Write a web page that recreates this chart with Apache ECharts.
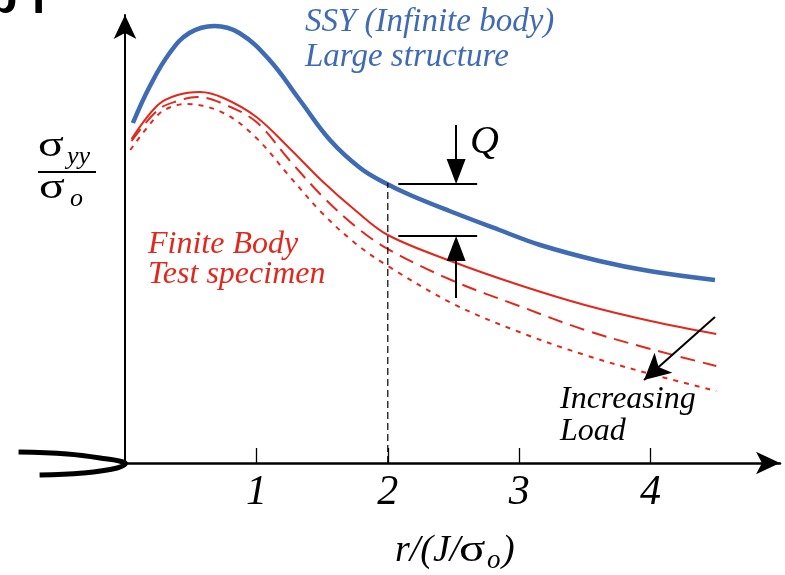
<!DOCTYPE html>
<html><head><meta charset="utf-8">
<script src="https://cdn.jsdelivr.net/npm/echarts@6/dist/echarts.min.js"></script>
<style>html,body{margin:0;padding:0;background:#fff}#c{width:785px;height:575px}</style>
</head><body><div id="c"></div>
<script>
// ---- data (x = r/(J/σo), y = σyy/σo in arbitrary units) ----
const xTickValues = [1, 2, 3, 4];
const ssyCurve = [[0.06,3.40],[0.19,3.77],[0.34,4.10],[0.49,4.30],[0.68,4.37],[0.87,4.30],[1.10,4.03],[1.33,3.63],[1.56,3.23],[1.79,2.95],[1.98,2.80],[2.17,2.68],[2.47,2.52],[2.85,2.33],[3.16,2.18],[3.61,2.02],[3.99,1.92],[4.49,1.83]];
const finiteSolid = [[0.05,3.24],[0.25,3.58],[0.4,3.68],[0.57,3.71],[0.75,3.65],[1.0,3.46],[1.25,3.15],[1.5,2.82],[1.75,2.53],[2.0,2.28],[2.5,2.01],[3.0,1.78],[3.5,1.58],[4.0,1.42],[4.5,1.29]];
const finiteDashed = [[0.05,3.22],[0.25,3.53],[0.4,3.62],[0.55,3.66],[0.75,3.59],[1.0,3.41],[1.25,3.03],[1.5,2.67],[1.75,2.37],[2.0,2.14],[2.5,1.82],[3.0,1.57],[3.5,1.33],[4.0,1.14],[4.5,0.97]];
const finiteDotted = [[0.04,3.13],[0.25,3.48],[0.35,3.56],[0.47,3.59],[0.75,3.50],[1.0,3.25],[1.25,2.87],[1.5,2.50],[1.75,2.20],[2.0,1.97],[2.5,1.59],[3.0,1.31],[3.5,1.08],[4.0,0.89],[4.5,0.72]];
const referenceX = [[2,0],[2,2.80]];
const crackProfile = [[-0.81,0.11],[-0.44,0.09],[-0.19,0.05],[0,0],[-0.06,-0.05],[-0.32,-0.10],[-0.65,-0.12]];
const qLevels = {ssy: 2.79, finite: 2.27, x0: 2.08, x1: 2.68, xa: 2.52, yTop: 3.38, yBot: 1.65};
const loadArrow = [[4.49,1.46],[3.95,0.83]];

const SERIF = '"Liberation Serif","DejaVu Serif",serif';
const RED = '#e2281c', BLUE = '#3e6bb4';

const chart = echarts.init(document.getElementById('c'), null, {renderer:'canvas'});
function lineSeries(data, color, width, type, smooth) {
  return {type:'line', data, symbol:'none', smooth: smooth===undefined?0.35:smooth, silent:true, animation:false,
    lineStyle:{color, width, type}, clip:false};
}
const option = {
  animation:false,
  grid:{left:125, right:5, top:15, bottom:112},
  xAxis:{type:'value', min:0, max:4.985,
    axisLine:{show:true, onZero:false, symbol:['none','arrow'], symbolSize:[17,24], lineStyle:{color:'#000', width:2.5}},
    axisTick:{show:true, inside:true, length:15, customValues:xTickValues, lineStyle:{color:'#000', width:1.3}},
    axisLabel:{show:true, customValues:xTickValues, margin:9, color:'#000', fontFamily:SERIF, fontStyle:'italic', fontSize:42},
    splitLine:{show:false}},
  yAxis:{type:'value', min:0, max:4.48,
    axisLine:{show:true, onZero:false, symbol:['none','arrow'], symbolSize:[17,24], lineStyle:{color:'#000', width:2}},
    axisTick:{show:false}, axisLabel:{show:false}, splitLine:{show:false}},
  series:[
    lineSeries(ssyCurve, BLUE, 4.5, 'solid', 0.4),
    lineSeries(finiteSolid, RED, 2, 'solid'),
    lineSeries(finiteDashed, RED, 2, [15,8]),
    lineSeries(finiteDotted, RED, 2, [5,6]),
    lineSeries(referenceX, '#000', 1.2, [7,4], false),
    {type:'custom', silent:true, animation:false, clip:false, data:[0],
      renderItem:function(params, api){
        return {type:'polyline', shape:{points: crackProfile.map(p=>api.coord(p)), smooth:0.4},
          style:{stroke:'#000', lineWidth:5, fill:null}};
      }},
    {type:'line', data:[], silent:true, animation:false,
      markLine:{silent:true, animation:false, label:{show:false},
        lineStyle:{color:'#000', width:2, type:'solid'},
        data:[
          [{coord:[qLevels.x0,qLevels.ssy], symbol:'none'},{coord:[qLevels.x1,qLevels.ssy], symbol:'none'}],
          [{coord:[qLevels.x0,qLevels.finite], symbol:'none'},{coord:[qLevels.x1,qLevels.finite], symbol:'none'}],
          [{coord:[qLevels.xa,qLevels.yTop], symbol:'none'},{coord:[qLevels.xa,qLevels.ssy+0.125], symbol:'triangle', symbolSize:[19,25]}],
          [{coord:[qLevels.xa,qLevels.yBot], symbol:'none'},{coord:[qLevels.xa,qLevels.finite-0.125], symbol:'triangle', symbolSize:[19,25]}],
          [{coord:loadArrow[0], symbol:'none'},{coord:loadArrow[1], symbol:'arrow', symbolSize:[20,26]}]
        ]}}
  ],
  graphic:[
    {type:'text', left:-12, top:-24, style:{text:'b', font:'bold 48px "Liberation Sans",sans-serif', fill:'#000'}},
    {type:'text', left:32, top:-24, style:{text:'l', font:'bold 48px "Liberation Sans",sans-serif', fill:'#000'}},
    {type:'text', x:305, y:22, style:{text:'SSY (Infinite body)', font:'italic 33px '+SERIF, fill:BLUE, verticalAlign:'middle'}},
    {type:'text', x:305, y:57, style:{text:'Large structure', font:'italic 33px '+SERIF, fill:BLUE, verticalAlign:'middle'}},
    {type:'text', x:148, y:245, style:{text:'Finite Body', font:'italic 32px '+SERIF, fill:RED, verticalAlign:'middle'}},
    {type:'text', x:148, y:275, style:{text:'Test specimen', font:'italic 32px '+SERIF, fill:RED, verticalAlign:'middle'}},
    {type:'text', x:560, y:400, style:{text:'Increasing', font:'italic 32px '+SERIF, fill:'#000', verticalAlign:'middle'}},
    {type:'text', x:560, y:432, style:{text:'Load', font:'italic 32px '+SERIF, fill:'#000', verticalAlign:'middle'}},
    {type:'text', x:470, y:142, style:{text:'Q', font:'italic 40px '+SERIF, fill:'#000', verticalAlign:'middle'}},
    {type:'text', x:38, y:147, scaleX:1.2, scaleY:0.9, style:{text:'σ', font:'40px '+SERIF, fill:'#000', verticalAlign:'middle'}},
    {type:'text', x:67, y:157, style:{text:'yy', font:'italic 26px '+SERIF, fill:'#000', verticalAlign:'middle'}},
    {type:'line', shape:{x1:38, y1:172, x2:96, y2:172}, style:{stroke:'#000', lineWidth:2}},
    {type:'text', x:39, y:189, scaleX:1.2, scaleY:0.9, style:{text:'σ', font:'40px '+SERIF, fill:'#000', verticalAlign:'middle'}},
    {type:'text', x:70, y:199, style:{text:'o', font:'italic 26px '+SERIF, fill:'#000', verticalAlign:'middle'}},
    {type:'text', x:395, y:551, style:{text:'r/(J/', font:'italic 38px '+SERIF, fill:'#000', verticalAlign:'middle'}},
    {type:'text', x:459, y:551, scaleX:1.2, scaleY:0.92, style:{text:'σ', font:'41px '+SERIF, fill:'#000', verticalAlign:'middle'}},
    {type:'text', x:487, y:561, style:{text:'o', font:'italic 27px '+SERIF, fill:'#000', verticalAlign:'middle'}},
    {type:'text', x:502, y:551, style:{text:')', font:'italic 38px '+SERIF, fill:'#000', verticalAlign:'middle'}}
  ]
};
chart.setOption(option);
</script>
</body></html>
